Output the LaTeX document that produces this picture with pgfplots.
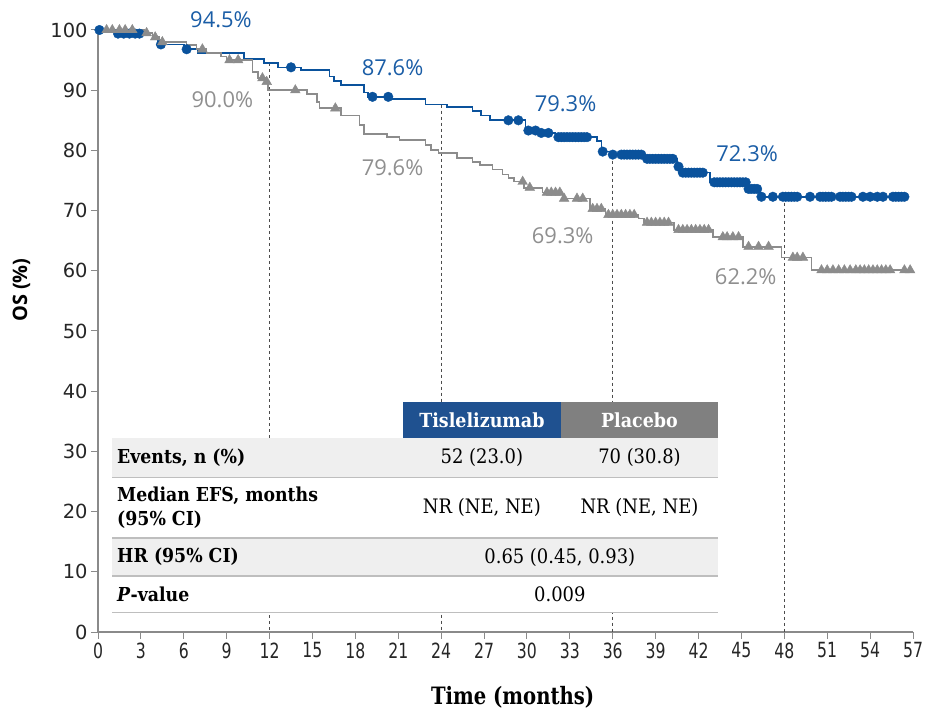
\documentclass[border=0pt]{standalone}
\usepackage{fontspec}
\usepackage{pgfplots}
\pgfplotsset{compat=1.18}
\newfontfamily\slab[FakeStretch=0.9]{DejaVu Serif}
\newfontfamily\slabc[FakeStretch=0.82]{DejaVu Serif}
\newfontfamily\ticky{DejaVu Sans}
\newfontfamily\tickx[FakeStretch=0.75]{DejaVu Sans}
\newfontfamily\lab{Open Sans}
\definecolor{tblue}{HTML}{0A529C}
\definecolor{tgray}{HTML}{8C8C8C}
\definecolor{hblue}{HTML}{1F5190}
\definecolor{hgray}{HTML}{808080}
\definecolor{rowg}{HTML}{EFEFEF}
\definecolor{lineg}{HTML}{BEBEBE}
\definecolor{axg}{HTML}{8A8A8A}
\definecolor{lblue}{HTML}{1A5DA6}
\definecolor{lgray}{HTML}{8F8F8F}
\begin{document}
\begin{tikzpicture}
\begin{axis}[name=ax, scale only axis, width=815bp, height=602bp,
  xmin=0, xmax=57, ymin=0, ymax=100, clip=false,
  axis x line*=bottom, axis y line*=left,
  axis line style={axg, line width=1.3pt},
  xtick={0,3,...,57}, ytick={0,10,...,100},
  tick align=outside, major tick length=7bp,
  tick style={axg, line width=1pt},
  /pgf/number format/assume math mode=true,
  xticklabel style={font=\tickx\fontsize{21}{21}\selectfont, text=black!85},
  yticklabel style={font=\ticky\fontsize{19.5}{19.5}\selectfont, text=black!85},
]
% dashed reference lines
\draw[black!70, line width=0.7pt, dash pattern=on 3bp off 3bp] (axis cs:12,94.5) -- (axis cs:12,0);
\draw[black!70, line width=0.7pt, dash pattern=on 3bp off 3bp] (axis cs:24,87.6) -- (axis cs:24,0);
\draw[black!70, line width=0.7pt, dash pattern=on 3bp off 3bp] (axis cs:36,79.3) -- (axis cs:36,0);
\draw[black!70, line width=0.7pt, dash pattern=on 3bp off 3bp] (axis cs:48,72.3) -- (axis cs:48,0);

% Tislelizumab
\addplot[const plot, tblue, line width=1.6pt] coordinates {
(0,100) (1.2,99.4) (3.8,98.6) (4.2,97.6) (6.0,96.8) (7.0,96.2) (10.2,95.2) (11.6,94.5)
(12.6,93.8) (14.2,93.4) (16.2,92.3) (16.5,91.5) (17.0,90.9) (18.6,89.6) (18.9,88.9)
(20.4,88.5) (22.9,87.6) (24.4,87.2) (26.2,86.5) (26.8,85.8) (27.4,85.0) (29.9,83.3)
(30.9,82.9) (32.0,82.2) (34.9,81.6) (35.2,79.8) (35.9,79.3) (38.3,78.6) (40.5,77.3)
(40.8,76.3) (42.8,74.7) (45.4,73.6) (46.3,72.3) (56.4,72.3)};
\addplot[only marks, mark=*, mark size=4.8bp, tblue] coordinates {
(0.1,100) (1.4,99.4) (1.8,99.4) (2.2,99.4) (2.6,99.4) (2.9,99.4) (4.4,97.6) (6.2,96.8)
(13.5,93.8) (19.2,88.9) (20.3,88.9) (28.7,85.0) (29.4,85.0) (30.1,83.3) (30.6,83.3)
(31.0,82.9) (31.5,82.9) (32.2,82.2) (32.4,82.2) (32.6,82.2) (32.8,82.2) (33.0,82.2)
(33.2,82.2) (33.4,82.2) (33.6,82.2) (33.8,82.2) (34.0,82.2) (34.2,82.2)
(35.3,79.8) (36.0,79.3) (36.6,79.3) (36.8,79.3) (37.0,79.3) (37.2,79.3) (37.4,79.3)
(37.6,79.3) (37.8,79.3) (38.0,79.3) (38.4,78.6) (38.6,78.6) (38.8,78.6) (39.0,78.6)
(39.2,78.6) (39.4,78.6) (39.6,78.6) (39.8,78.6) (40.0,78.6) (40.2,78.6) (40.6,77.3)
(40.9,76.3) (41.1,76.3) (41.3,76.3) (41.5,76.3) (41.7,76.3) (41.9,76.3) (42.1,76.3) (42.3,76.3)
(43.1,74.7) (43.3,74.7) (43.5,74.7) (43.7,74.7) (43.9,74.7) (44.1,74.7) (44.3,74.7)
(44.5,74.7) (44.7,74.7) (44.9,74.7) (45.1,74.7) (45.3,74.7)
(45.5,73.6) (45.7,73.6) (45.9,73.6) (46.1,73.6)
(46.4,72.3) (47.2,72.3) (47.9,72.3) (48.1,72.3) (48.3,72.3) (48.5,72.3) (48.7,72.3)
(48.9,72.3) (49.8,72.3) (50.5,72.3) (50.7,72.3) (50.9,72.3) (51.1,72.3) (51.3,72.3)
(51.9,72.3) (52.1,72.3) (52.3,72.3) (52.5,72.3) (52.7,72.3) (53.5,72.3) (54.0,72.3)
(54.5,72.3) (54.9,72.3) (55.6,72.3) (55.8,72.3) (56.0,72.3) (56.2,72.3) (56.4,72.3)};

% Placebo
\addplot[const plot, tgray, line width=1.6pt] coordinates {
(0,100) (3.2,99.5) (3.8,98.8) (4.3,98.0) (6.2,97.5) (6.9,96.8) (7.6,96.2) (8.6,95.6)
(9.0,95.0) (10.8,93.0) (11.2,92.0) (11.7,91.4) (11.9,90.0) (14.6,89.4) (15.3,88.0)
(15.5,87.0) (17.0,85.8) (18.3,84.2) (18.6,82.7) (20.2,82.2) (21.1,81.7) (22.9,80.9)
(23.3,80.1) (23.8,79.6) (25.1,78.7) (26.2,78.1) (26.7,77.6) (27.6,76.8) (28.3,76.0)
(28.7,75.4) (29.1,74.8) (29.8,73.8) (31.1,73.0) (32.5,72.0) (34.4,70.3) (35.5,69.3)
(37.8,68.7) (38.2,68.0) (40.3,66.8) (43.0,65.6) (45.1,64.0) (47.8,62.2) (49.9,60.1)
(57,60.1)};
\addplot[only marks, mark=triangle*, mark size=5.6bp, tgray] coordinates {
(0.6,100) (1.0,100) (1.5,100) (1.9,100) (2.4,100) (3.4,99.5) (4.0,98.8) (4.5,98.0)
(7.3,96.8) (9.2,95.0) (9.8,95.0) (11.5,92.0) (11.8,91.4) (13.8,90.0) (16.6,87.0)
(29.7,74.8) (30.2,73.8) (31.4,73.0) (31.7,73.0) (32.0,73.0) (32.3,73.0)
(32.6,72.0) (33.5,72.0) (33.9,72.0) (34.6,70.3) (34.9,70.3) (35.2,70.3)
(35.7,69.3) (36.0,69.3) (36.3,69.3) (36.6,69.3) (36.9,69.3) (37.2,69.3) (37.5,69.3)
(38.4,68.0) (38.7,68.0) (39.0,68.0) (39.3,68.0) (39.6,68.0) (39.9,68.0)
(40.6,66.8) (40.9,66.8) (41.2,66.8) (41.5,66.8) (41.8,66.8) (42.1,66.8) (42.4,66.8) (42.7,66.8)
(43.7,65.6) (44.0,65.6) (44.4,65.6) (44.8,65.6) (45.5,64.0) (46.2,64.0) (46.9,64.0)
(48.6,62.2) (48.9,62.2) (49.3,62.2)
(50.6,60.1) (51.0,60.1) (51.4,60.1) (51.8,60.1) (52.2,60.1) (52.6,60.1) (53.0,60.1)
(53.3,60.1) (53.6,60.1) (53.9,60.1) (54.2,60.1) (54.5,60.1) (54.8,60.1) (55.1,60.1)
(55.4,60.1) (56.4,60.1) (56.8,60.1)};

% percentage labels
\node[font=\lab\fontsize{22}{22}\selectfont, text=lblue] at (axis cs:8.6,101.7) {94.5\%};
\node[font=\lab\fontsize{22}{22}\selectfont, text=lgray] at (axis cs:8.7,88.4) {90.0\%};
\node[font=\lab\fontsize{22}{22}\selectfont, text=lblue] at (axis cs:20.6,93.7) {87.6\%};
\node[font=\lab\fontsize{22}{22}\selectfont, text=lgray] at (axis cs:20.6,77.1) {79.6\%};
\node[font=\lab\fontsize{22}{22}\selectfont, text=lblue] at (axis cs:32.7,87.7) {79.3\%};
\node[font=\lab\fontsize{22}{22}\selectfont, text=lgray] at (axis cs:32.5,65.9) {69.3\%};
\node[font=\lab\fontsize{22}{22}\selectfont, text=lblue] at (axis cs:45.4,79.4) {72.3\%};
\node[font=\lab\fontsize{22}{22}\selectfont, text=lgray] at (axis cs:45.3,59.0) {62.2\%};

% table
\fill[rowg] (axis cs:0.98,25.7) rectangle (axis cs:43.36,32.2);
\fill[white] (axis cs:0.98,15.6) rectangle (axis cs:43.36,25.7);
\fill[rowg] (axis cs:0.98,9.3) rectangle (axis cs:43.36,15.6);
\fill[white] (axis cs:0.98,3.2) rectangle (axis cs:43.36,9.3);
\fill[hblue] (axis cs:21.33,32.2) rectangle (axis cs:32.38,38.2);
\fill[hgray] (axis cs:32.38,32.2) rectangle (axis cs:43.36,38.2);
\draw[lineg, line width=1.5pt] (axis cs:0.98,25.7) -- (axis cs:43.36,25.7);
\draw[lineg, line width=1.5pt] (axis cs:0.98,15.6) -- (axis cs:43.36,15.6);
\draw[lineg, line width=1.5pt] (axis cs:0.98,9.3) -- (axis cs:43.36,9.3);
\draw[lineg, line width=1.5pt] (axis cs:0.98,3.2) -- (axis cs:43.36,3.2);
\node[font=\slab\bfseries\fontsize{19.5}{22}\selectfont, text=white] at (axis cs:26.85,35.2) {Tislelizumab};
\node[font=\slab\bfseries\fontsize{19.5}{22}\selectfont, text=white] at (axis cs:37.87,35.2) {Placebo};
\node[anchor=west, font=\slab\bfseries\fontsize{19.3}{22}\selectfont] at (axis cs:1.1,28.95) {Events, n (\%)};
\node[anchor=west, align=left, font=\slab\bfseries\fontsize{19.3}{25}\selectfont] at (axis cs:1.1,20.65) {Median EFS, months\\(95\% CI)};
\node[anchor=west, font=\slab\bfseries\fontsize{19.3}{22}\selectfont] at (axis cs:1.1,12.45) {HR (95\% CI)};
\node[anchor=west, font=\slab\bfseries\fontsize{19.3}{22}\selectfont] at (axis cs:1.1,6.25) {\textit{P}-value};
\node[font=\slab\fontsize{20}{22}\selectfont] at (axis cs:26.85,28.95) {52 (23.0)};
\node[font=\slab\fontsize{20}{22}\selectfont] at (axis cs:37.87,28.95) {70 (30.8)};
\node[font=\slab\fontsize{20}{22}\selectfont] at (axis cs:26.85,20.65) {NR (NE, NE)};
\node[font=\slab\fontsize{20}{22}\selectfont] at (axis cs:37.87,20.65) {NR (NE, NE)};
\node[font=\slab\fontsize{20}{22}\selectfont] at (axis cs:32.3,12.45) {0.65 (0.45, 0.93)};
\node[font=\slab\fontsize{20}{22}\selectfont] at (axis cs:32.3,6.25) {0.009};

% axis titles
\node[font=\slabc\bfseries\fontsize{24}{24}\selectfont] at (axis cs:29.0,-10.9) {Time (months)};
\node[rotate=90, font=\lab\bfseries\fontsize{20}{20}\selectfont] at (axis cs:-5.35,56.8) {OS (\%)};
\end{axis}
\pgfresetboundingbox
\path ([xshift=-98bp,yshift=-78bp]ax.south west) rectangle ([xshift=15bp,yshift=30bp]ax.north east);
\end{tikzpicture}
\end{document}
